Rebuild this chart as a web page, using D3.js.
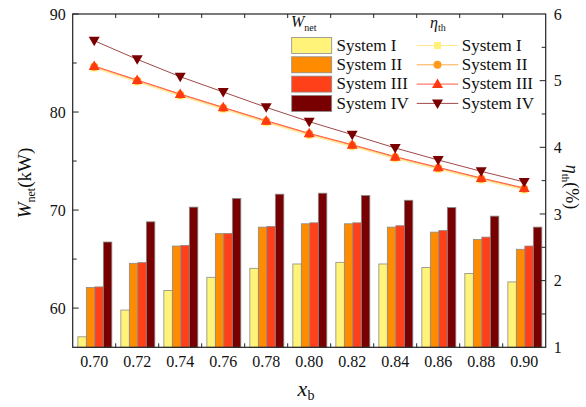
<!DOCTYPE html>
<html>
<head>
<meta charset="utf-8">
<script src="https://cdn.jsdelivr.net/npm/d3@7"></script>
<style>
html,body{margin:0;padding:0;background:#fff;}
svg text{font-family:"Liberation Serif","DejaVu Serif",serif;}
</style>
</head>
<body>
<svg id="chart" width="586" height="407"></svg>
<script>
const categories = ["0.70","0.72","0.74","0.76","0.78","0.80","0.82","0.84","0.86","0.88","0.90"];
const seriesNames = ["System I","System II","System III","System IV"];
const wnetI   = [57.07, 59.80, 61.80, 63.14, 64.06, 64.50, 64.67, 64.50, 64.13, 63.52, 62.67];
const wnetII  = [62.10, 64.57, 66.33, 67.59, 68.26, 68.60, 68.60, 68.26, 67.75, 67.00, 66.00];
const wnetIII = [62.16, 64.64, 66.40, 67.62, 68.33, 68.70, 68.70, 68.40, 67.92, 67.24, 66.33];
const wnetIV  = [66.74, 68.80, 70.30, 71.18, 71.62, 71.72, 71.48, 71.00, 70.26, 69.38, 68.26];
const etaI   = [5.19, 4.98, 4.77, 4.57, 4.37, 4.18, 4.01, 3.83, 3.67, 3.51, 3.36];
const etaII  = [5.21, 5.00, 4.79, 4.59, 4.39, 4.20, 4.03, 3.85, 3.69, 3.53, 3.38];
const etaIII = [5.22, 5.01, 4.80, 4.60, 4.40, 4.21, 4.04, 3.86, 3.70, 3.54, 3.39];
const etaIV  = [5.60, 5.32, 5.06, 4.83, 4.60, 4.385, 4.19, 3.99, 3.81, 3.64, 3.48];
const leftTicks = [60, 70, 80, 90];
const rightTicks = [1, 2, 3, 4, 5, 6];

const wnet = [wnetI, wnetII, wnetIII, wnetIV];
const eta = [etaI, etaII, etaIII, etaIV];
const barColors = ["#fff37a", "#ff8c00", "#ff4019", "#780000"];
const markerColors = ["#fff07a", "#ff9a1a", "#ff3a12", "#7a0000"];
const lineColors = ["#ffe98a", "#ffab4a", "#ff5a44", "#a04848"];
const FONT = "'Liberation Serif','DejaVu Serif',serif";

const svg = d3.select("#chart");
const L = 72.7, R = 545.7, T = 14, B = 347.3;

const x0 = d3.scaleBand().domain(categories).range([L, R]).padding(0);
const bw = x0.bandwidth();
const x1 = d3.scaleBand().domain(seriesNames).range([bw * 0.12, bw * 0.91]).padding(0);
const yL = d3.scaleLinear().domain([56, 90]).range([B, T]);
const yR = d3.scaleLinear().domain([1, 6]).range([B, T]);

// bars
const gBars = svg.append("g");
seriesNames.forEach((s, si) => {
  gBars.selectAll(null).data(categories).enter().append("rect")
    .attr("x", c => x0(c) + x1(s))
    .attr("width", x1.bandwidth())
    .attr("y", (c, i) => yL(wnet[si][i]))
    .attr("height", (c, i) => B - yL(wnet[si][i]))
    .attr("fill", barColors[si])
    .attr("stroke", "#8a8a8a")
    .attr("stroke-width", 0.8);
});

// lines + markers
function marker(g, si, cx, cy) {
  const col = markerColors[si];
  if (si === 0) {
    g.append("rect").attr("x", cx - 3.5).attr("y", cy - 3.5).attr("width", 7).attr("height", 7).attr("fill", col);
  } else if (si === 1) {
    g.append("circle").attr("cx", cx).attr("cy", cy).attr("r", 4).attr("fill", col);
  } else if (si === 2) {
    g.append("path").attr("d", `M${cx},${cy - 5.5}L${cx + 5.5},${cy + 4}L${cx - 5.5},${cy + 4}Z`).attr("fill", col);
  } else {
    g.append("path").attr("d", `M${cx},${cy + 5.5}L${cx + 5.5},${cy - 4}L${cx - 5.5},${cy - 4}Z`).attr("fill", col);
  }
}
const gLines = svg.append("g");
const cx = c => x0(c) + bw / 2;
seriesNames.forEach((s, si) => {
  const line = d3.line().x((d, i) => cx(categories[i])).y(d => yR(d));
  gLines.append("path").datum(eta[si]).attr("d", line)
    .attr("fill", "none").attr("stroke", lineColors[si]).attr("stroke-width", 1);
});
seriesNames.forEach((s, si) => {
  eta[si].forEach((v, i) => marker(gLines, si, cx(categories[i]), yR(v)));
});

// frame
const axisCol = "#222";
svg.append("rect").attr("x", L).attr("y", T).attr("width", R - L).attr("height", B - T)
  .attr("fill", "none").attr("stroke", axisCol).attr("stroke-width", 1.2);

const gAx = svg.append("g").attr("stroke", axisCol).attr("stroke-width", 1);
d3.range(60, 91, 5).forEach(v => {
  const major = v % 10 === 0;
  gAx.append("line").attr("x1", L).attr("x2", L + (major ? 6 : 4)).attr("y1", yL(v)).attr("y2", yL(v));
});
d3.range(1.5, 6, 0.5).forEach(v => {
  const major = Number.isInteger(v);
  gAx.append("line").attr("x1", R).attr("x2", R - (major ? 6 : 4)).attr("y1", yR(v)).attr("y2", yR(v));
});
categories.forEach((c, i) => {
  if (i === 0) return;
  const xx = x0(c);
  gAx.append("line").attr("x1", xx).attr("x2", xx).attr("y1", B).attr("y2", B - 4);
  gAx.append("line").attr("x1", xx).attr("x2", xx).attr("y1", T).attr("y2", T + 4);
});

// tick labels
const tl = svg.append("g").attr("font-size", 16).attr("fill", "#111").attr("font-family", FONT);
leftTicks.forEach(v => {
  tl.append("text").attr("x", L - 7).attr("y", yL(v)).attr("dy", "0.35em").attr("text-anchor", "end").text(v);
});
rightTicks.forEach(v => {
  tl.append("text").attr("x", R + 8).attr("y", yR(v)).attr("dy", "0.35em").attr("text-anchor", "start").text(v);
});
categories.forEach(c => {
  tl.append("text").attr("x", cx(c)).attr("y", 367).attr("text-anchor", "middle").text(c);
});

// axis titles
const lt = svg.append("text").attr("transform", "translate(31,183) rotate(-90)").attr("font-family", FONT)
  .attr("text-anchor", "middle").attr("font-size", 19).attr("fill", "#111");
lt.append("tspan").attr("font-style", "italic").text("W");
lt.append("tspan").attr("font-size", 12).attr("dy", 4).text("net");
lt.append("tspan").attr("dy", -4).text("(kW)");

const rt = svg.append("text").attr("transform", "translate(566,187) rotate(90)").attr("font-family", FONT)
  .attr("text-anchor", "middle").attr("font-size", 18).attr("fill", "#111");
rt.append("tspan").attr("font-style", "italic").text("η");
rt.append("tspan").attr("font-size", 11).attr("dy", 4).text("th");
rt.append("tspan").attr("dy", -4).text("(%)");

const xt = svg.append("text").attr("x", 306).attr("y", 396).attr("text-anchor", "middle").attr("font-family", FONT)
  .attr("font-size", 22).attr("fill", "#111");
xt.append("tspan").attr("font-style", "italic").text("x");
xt.append("tspan").attr("font-size", 14).attr("dy", 4).text("b");

// legend
const lg = svg.append("g").attr("fill", "#111").attr("font-family", FONT);
const h1 = lg.append("text").attr("x", 291).attr("y", 27).attr("font-size", 16);
h1.append("tspan").attr("font-style", "italic").text("W");
h1.append("tspan").attr("font-size", 10).attr("dy", 4).text("net");
const h2 = lg.append("text").attr("x", 430).attr("y", 28).attr("font-size", 16);
h2.append("tspan").attr("font-style", "italic").text("η");
h2.append("tspan").attr("font-size", 10).attr("dy", 3).text("th");

seriesNames.forEach((s, si) => {
  const ry = 37.5 + si * 19.3;
  lg.append("rect").attr("x", 291.7).attr("y", ry).attr("width", 40).attr("height", 16)
    .attr("fill", barColors[si]).attr("stroke", "#8a8a8a").attr("stroke-width", 0.8);
  lg.append("text").attr("x", 336.5).attr("y", ry + 13.3).attr("font-size", 17).text(s);
  const ly = ry + 8;
  lg.append("line").attr("x1", 416.7).attr("x2", 458.3).attr("y1", ly).attr("y2", ly)
    .attr("stroke", lineColors[si]).attr("stroke-width", 1);
  marker(lg, si, 437.5, ly);
  lg.append("text").attr("x", 461.7).attr("y", ry + 13.3).attr("font-size", 17).text(s);
});
</script>
</body>
</html>
